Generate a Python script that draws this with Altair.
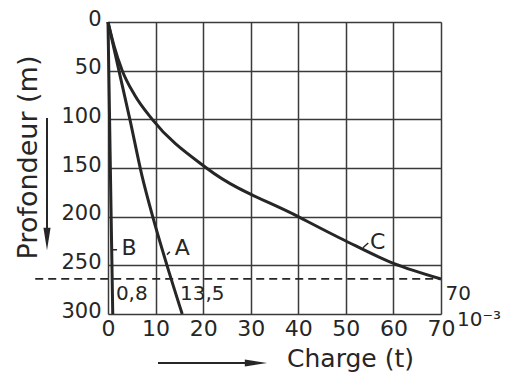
import altair as alt
import pandas as pd

# Curve data (depth in m, charge in t x 10^-3)
b_depth = [0, 100, 200, 300]
b_charge = [0, 0.33, 0.66, 1.0]

a_depth = [0, 50, 100, 157, 200, 250, 300]
a_charge = [0, 2.3, 4.6, 7.1, 9.4, 12.4, 15.6]

c_depth = [0, 25, 50, 75, 100, 150, 200, 225, 248, 264]
c_charge = [0, 1.3, 3.0, 5.6, 9.3, 20.7, 40, 50, 60, 70]

x_ticks = [0, 10, 20, 30, 40, 50, 60, 70]
y_ticks = [0, 50, 100, 150, 200, 250, 300]

ref_depth = 264
ref_x_start = -15.3
ref_x_end = 70

label_text = ["B", "A", "C", "0,8", "13,5", "70", "10⁻³"]
label_x = [4.4, 15.6, 56.7, 5.0, 19.8, 73.6, 78.0]
label_y = [232, 232, 226, 279, 279, 279, 306]
label_size = [22, 22, 22, 20, 20, 20, 20]

leader_x = [1.05, 12.4, 53.6]
leader_x2 = [1.9, 13.0, 54.7]
leader_y = [234, 239, 232]
leader_y2 = [234, 236, 227]

rows = []
for name, ds, cs in [("B", b_depth, b_charge), ("A", a_depth, a_charge), ("C", c_depth, c_charge)]:
    for d, c in zip(ds, cs):
        rows.append({"curve": name, "depth": d, "charge": c})
curves = pd.DataFrame(rows)

ink = "#262626"
FONT = "DejaVu Sans"

xscale = alt.Scale(domain=[0, 70], nice=False, zero=False)
yscale = alt.Scale(domain=[0, 300], reverse=True, nice=False, zero=False)

xaxis = alt.Axis(values=x_ticks, grid=True, gridColor="#3a3a3a", gridWidth=1.5,
                 domain=False, ticks=False, labelFontSize=22, labelFont=FONT,
                 labelColor=ink, labelPadding=4, title="Charge (t)",
                 titleFont=FONT, titleFontSize=25, titleFontWeight="normal",
                 titleColor=ink, titleX=242, titleY=44, titleBaseline="middle",
                 titleAnchor="start", titleAlign="center", labelFlush=False)
yaxis = alt.Axis(values=y_ticks, grid=True, gridColor="#3a3a3a", gridWidth=1.5,
                 domain=False, ticks=False, labelFontSize=21, labelFont=FONT,
                 labelColor=ink, labelPadding=7, labelOffset=-3, title="Profondeur (m)",
                 titleFont=FONT, titleFontSize=27, titleFontWeight="normal",
                 titleColor=ink, titleX=-80, titleY=135, titleBaseline="middle",
                 titleAlign="center", titleAngle=270, labelFlush=False)

lines = alt.Chart(curves).mark_line(color=ink, strokeWidth=3, interpolate="monotone").encode(
    x=alt.X("charge:Q", scale=xscale, axis=xaxis),
    y=alt.Y("depth:Q", scale=yscale, axis=yaxis),
    detail="curve:N",
    order="depth:Q",
)

ref = alt.Chart(pd.DataFrame({"x": [ref_x_start], "x2": [ref_x_end], "y": [ref_depth]})).mark_rule(
    color=ink, strokeWidth=1.8, strokeDash=[8, 5]
).encode(x=alt.X("x:Q", scale=xscale), x2="x2:Q", y=alt.Y("y:Q", scale=yscale))

labels_df = pd.DataFrame({"t": label_text, "x": label_x, "y": label_y, "s": label_size})
labels = alt.Chart(labels_df).mark_text(font=FONT, color=ink, baseline="middle", align="center").encode(
    x=alt.X("x:Q", scale=xscale), y=alt.Y("y:Q", scale=yscale), text="t:N",
    size=alt.Size("s:Q", scale=None, legend=None),
)

leaders = alt.Chart(pd.DataFrame({"x": leader_x, "x2": leader_x2, "y": leader_y, "y2": leader_y2})).mark_rule(
    color=ink, strokeWidth=1.5
).encode(x=alt.X("x:Q", scale=xscale), x2="x2:Q", y=alt.Y("y:Q", scale=yscale), y2="y2:Q")

# Direction arrows beside the axis titles
arrow_shape = "M-1,-0.32L1,0L-1,0.32Z"
y_arrow = alt.Chart(pd.DataFrame({"a": [0]})).mark_rule(color=ink, strokeWidth=2).encode(
    x=alt.value(-61), y=alt.value(96), y2=alt.value(215))
y_head = alt.Chart(pd.DataFrame({"a": [0]})).mark_point(
    shape=arrow_shape, filled=True, color=ink, opacity=1, size=500, angle=90
).encode(x=alt.value(-61), y=alt.value(217))
x_arrow = alt.Chart(pd.DataFrame({"a": [0]})).mark_rule(color=ink, strokeWidth=2).encode(
    x=alt.value(50), x2=alt.value(145), y=alt.value(341))
x_head = alt.Chart(pd.DataFrame({"a": [0]})).mark_point(
    shape=arrow_shape, filled=True, color=ink, opacity=1, size=500
).encode(x=alt.value(148), y=alt.value(341))

chart = alt.layer(lines, ref, labels, leaders, y_arrow, y_head, x_arrow, x_head).properties(
    width=333, height=292,
    autosize=alt.AutoSizeParams(type="none"),
    padding={"left": 100, "top": 14, "right": 63, "bottom": 60},
).configure_view(stroke=ink, strokeWidth=2).configure(background="white")

chart.save("out.html", embed_options={"renderer": "svg", "actions": False})
